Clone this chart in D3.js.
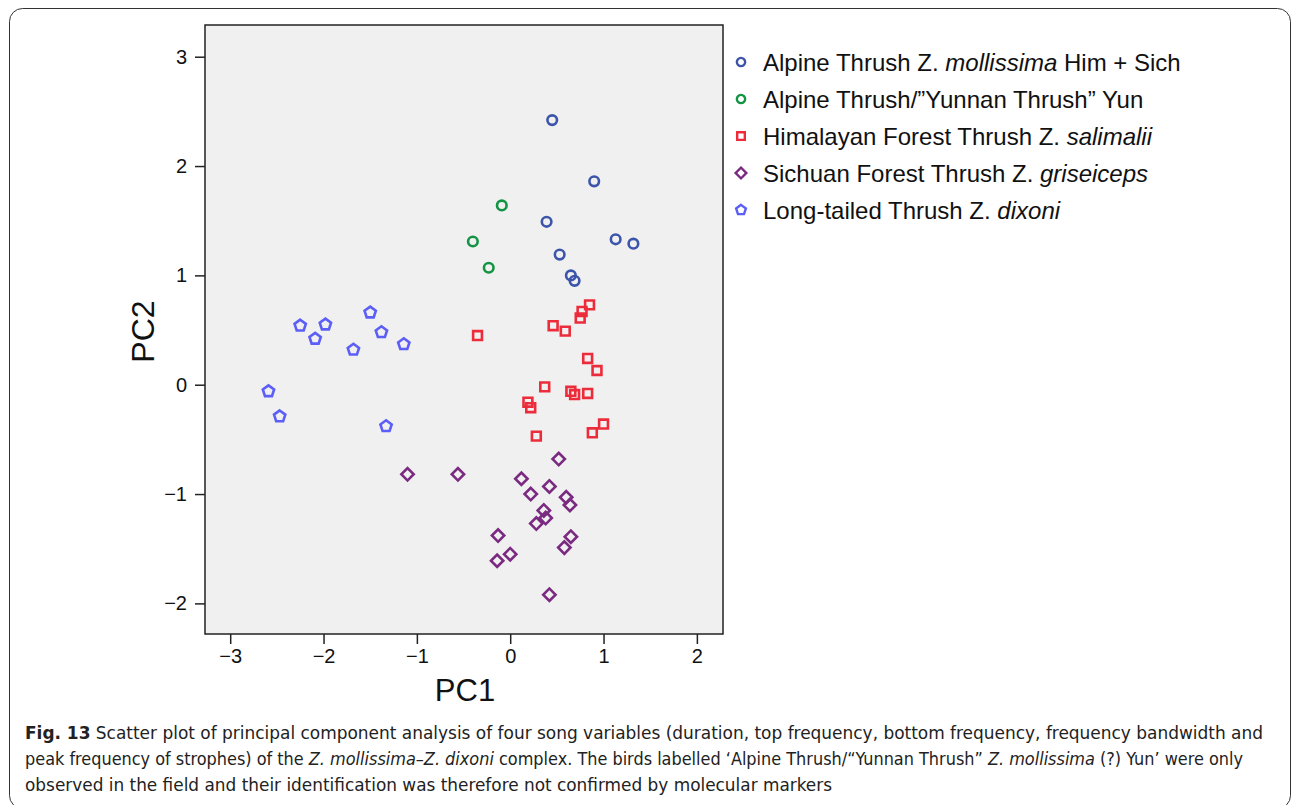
<!DOCTYPE html>
<html>
<head>
<meta charset="utf-8">
<script src="https://cdn.jsdelivr.net/npm/d3@7"></script>
<style>
  body { margin: 0; background: #fff; }
  svg { display: block; font-family: "Liberation Sans", Arial, sans-serif; }
  .caption { font-family: "DejaVu Sans Condensed", "DejaVu Sans", sans-serif; font-size: 17.5px; fill: #222; }
</style>
</head>
<body>
<svg class="chart" width="1293" height="805"></svg>
<script>
// groups as they appear in the legend
const groups = ["mollHS", "yun", "salimalii", "griseiceps", "dixoni"];
const groupColors = ["#3c55aa", "#139443", "#ec2c3a", "#7a2a80", "#5b5ef7"];

// PC1 / PC2 values
const mollHS_x = [0.45, 0.90, 0.39, 1.13, 1.32, 0.53, 0.65, 0.69];
const mollHS_y = [2.42, 1.86, 1.49, 1.33, 1.29, 1.19, 1.00, 0.95];

const yun_x = [-0.09, -0.40, -0.23];
const yun_y = [1.64, 1.31, 1.07];

const salimalii_x = [0.85, 0.77, 0.75, 0.46, 0.59, -0.35, 0.83, 0.93, 0.37, 0.65, 0.69, 0.83, 0.19, 0.22, 1.00, 0.88, 0.28];
const salimalii_y = [0.73, 0.67, 0.61, 0.54, 0.49, 0.45, 0.24, 0.13, -0.02, -0.06, -0.09, -0.08, -0.16, -0.21, -0.36, -0.44, -0.47];

const griseiceps_x = [0.52, -1.10, -0.56, 0.12, 0.42, 0.22, 0.60, 0.64, 0.36, 0.38, 0.28, -0.13, 0.65, 0.58, 0.00, -0.14, 0.42];
const griseiceps_y = [-0.68, -0.82, -0.82, -0.86, -0.93, -1.00, -1.03, -1.10, -1.15, -1.22, -1.27, -1.38, -1.39, -1.49, -1.55, -1.61, -1.92];

const dixoni_x = [-1.50, -2.25, -1.98, -1.38, -2.09, -1.14, -1.68, -2.59, -2.47, -1.33];
const dixoni_y = [0.66, 0.54, 0.55, 0.48, 0.42, 0.37, 0.32, -0.06, -0.29, -0.38];

const xTicks = [-3, -2, -1, 0, 1, 2];
const yTicks = [-2, -1, 0, 1, 2, 3];

const legendLabels = [
    [["Alpine Thrush Z. ", false], ["mollissima", true], [" Him + Sich", false]],
    [["Alpine Thrush/\u201dYunnan Thrush\u201d Yun", false]],
    [["Himalayan Forest Thrush Z. ", false], ["salimalii", true]],
    [["Sichuan Forest Thrush Z. ", false], ["griseiceps", true]],
    [["Long-tailed Thrush Z. ", false], ["dixoni", true]]
];

const captionLines = [
    " Scatter plot of principal component analysis of four song variables (duration, top frequency, bottom frequency, frequency bandwidth and",
    "peak frequency of strophes) of the Z. mollissima\u2013Z. dixoni complex. The birds labelled \u2018Alpine Thrush/\u201cYunnan Thrush\u201d Z. mollissima (?) Yun\u2019 were only",
    "observed in the field and their identification was therefore not confirmed by molecular markers"
];
const italicBits = /(Z\. mollissima|Z\. dixoni)/;

const allData = [
    {x: mollHS_x, y: mollHS_y},
    {x: yun_x, y: yun_y},
    {x: salimalii_x, y: salimalii_y},
    {x: griseiceps_x, y: griseiceps_y},
    {x: dixoni_x, y: dixoni_y}
];

const points = [];
allData.forEach((s, gi) => s.x.forEach((v, i) => points.push({g: gi, x: v, y: s.y[i]})));

const plotL = 205, plotR = 723, plotT = 25, plotB = 634;

const svg = d3.select(".chart");

// outer frame
svg.append("rect")
    .attr("x", 9.5).attr("y", 8.5)
    .attr("width", 1281).attr("height", 800)
    .attr("rx", 13)
    .attr("fill", "none").attr("stroke", "#333").attr("stroke-width", 1);

const xScale = d3.scaleLinear().domain([-3.27, 2.28]).range([plotL, plotR]);
const yScale = d3.scaleLinear().domain([-2.28, 3.29]).range([plotB, plotT]);

// plot background
svg.append("rect")
    .attr("x", plotL).attr("y", plotT)
    .attr("width", plotR - plotL).attr("height", plotB - plotT)
    .attr("fill", "#f0f0f0");

// axes
const xAxis = d3.axisBottom(xScale).tickValues(xTicks).tickFormat(d3.format("d"))
    .tickSizeOuter(0).tickSize(10).tickPadding(5);
const gx = svg.append("g")
    .attr("transform", `translate(0, ${plotB})`)
    .call(xAxis);

const yAxis = d3.axisLeft(yScale).tickValues(yTicks).tickFormat(d3.format("d"))
    .tickSizeOuter(0).tickSize(10).tickPadding(8);
const gy = svg.append("g")
    .attr("transform", `translate(${plotL}, 0)`)
    .call(yAxis);

[gx, gy].forEach(g => {
    g.attr("font-family", null);
    g.select(".domain").remove();
    g.selectAll(".tick line").attr("stroke", "#222").attr("stroke-width", 1.5);
    g.selectAll(".tick text").attr("fill", "#111").style("font-size", "20px");
});

// plot border
svg.append("rect")
    .attr("x", plotL).attr("y", plotT)
    .attr("width", plotR - plotL).attr("height", plotB - plotT)
    .attr("fill", "none").attr("stroke", "#222").attr("stroke-width", 1.5);

// axis titles
svg.append("text")
    .attr("x", (plotL + plotR) / 2 + 1).attr("y", 701)
    .attr("text-anchor", "middle")
    .style("font-size", "31px").attr("fill", "#111")
    .text("PC1");

svg.append("text")
    .attr("transform", `translate(154, ${(plotT + plotB) / 2 + 2}) rotate(-90)`)
    .attr("text-anchor", "middle")
    .style("font-size", "32px").attr("fill", "#111")
    .text("PC2");

// marker shapes
const pentagon = {
    draw(ctx, size) {
        const r = Math.sqrt(size / 2.378);
        for (let k = 0; k < 5; k++) {
            const a = -Math.PI / 2 + k * 2 * Math.PI / 5;
            const px = r * Math.cos(a), py = r * Math.sin(a);
            if (k === 0) ctx.moveTo(px, py); else ctx.lineTo(px, py);
        }
        ctx.closePath();
    }
};
const shapeTypes = [d3.symbolCircle, d3.symbolCircle, d3.symbolSquare, d3.symbolSquare, pentagon];
const shapeSizes = [72, 72, 78, 76, 84];
const shapeRotate = [0, 0, 0, 45, 0];

function markerPath(g) {
    return d3.symbol().type(shapeTypes[g]).size(shapeSizes[g])();
}

svg.append("g")
    .selectAll("path")
    .data(points)
    .enter()
    .append("path")
    .attr("d", d => markerPath(d.g))
    .attr("transform", d => `translate(${xScale(d.x)}, ${yScale(d.y)}) rotate(${shapeRotate[d.g]})`)
    .attr("fill", "none")
    .attr("stroke", d => groupColors[d.g])
    .attr("stroke-width", 2.6);

// legend
const legend = svg.append("g").attr("transform", "translate(741, 62)");
const rows = legend.selectAll("g")
    .data(groups)
    .enter()
    .append("g")
    .attr("transform", (d, i) => `translate(0, ${i * 37})`);

rows.append("path")
    .attr("d", (d, i) => d3.symbol().type(shapeTypes[i]).size(shapeSizes[i] * 0.75)())
    .attr("transform", (d, i) => `rotate(${shapeRotate[i]})`)
    .attr("fill", "none")
    .attr("stroke", (d, i) => groupColors[i])
    .attr("stroke-width", 2.4);

const rowText = rows.append("text")
    .attr("x", 22).attr("dy", "0.36em")
    .style("font-size", "24px").attr("fill", "#111");

rowText.each(function(d, i) {
    const t = d3.select(this);
    legendLabels[i].forEach(([str, it]) => {
        t.append("tspan").style("font-style", it ? "italic" : "normal").text(str);
    });
});

// caption
const cap = svg.append("g").attr("class", "caption");
const capY = [739, 765, 791];
const capEnd = [1263, 1243, 832];
captionLines.forEach((line, i) => {
    const t = cap.append("text")
        .attr("x", 25).attr("y", capY[i])
        .attr("textLength", capEnd[i] - 25)
        .attr("lengthAdjust", "spacingAndGlyphs");
    if (i === 0) {
        t.append("tspan").style("font-weight", "bold").text("Fig. 13");
    }
    line.split(italicBits).forEach(p => {
        t.append("tspan")
            .style("font-style", italicBits.test(p) ? "italic" : "normal")
            .text(p);
    });
});
</script>
</body>
</html>
